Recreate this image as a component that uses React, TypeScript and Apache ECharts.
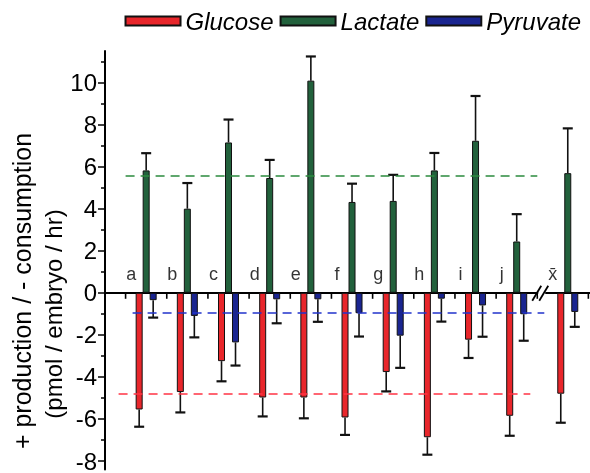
import React, { useEffect, useRef } from "react";
import * as echarts from "echarts";

const categories = ["a", "b", "c", "d", "e", "f", "g", "h", "i", "j", "x\u0304"];
const positions = [0, 1, 2, 3, 4, 5, 6, 7, 8, 9, 10.24];
const xTickValues = [-0.5, 0.5, 1.5, 2.5, 3.5, 4.5, 5.5, 6.5, 7.5, 8.5, 9.5, 10.74];
const yTickValues = [-8, -6, -4, -2, 0, 2, 4, 6, 8, 10];
const yMinorValues = [-7, -5, -3, -1, 1, 3, 5, 7, 9, 11];

const glucose = [-5.55, -4.72, -3.25, -4.98, -4.98, -5.93, -3.77, -6.87, -2.23, -5.85, -4.8];
const glucoseErr = [0.82, 0.97, 0.96, 0.9, 0.99, 0.83, 0.92, 0.83, 0.87, 0.95, 1.38];
const lactate = [5.82, 4.0, 7.15, 5.46, 10.09, 4.32, 4.37, 5.82, 7.23, 2.44, 5.69];
const lactateErr = [0.82, 1.22, 1.09, 0.86, 1.15, 0.87, 1.24, 0.83, 2.13, 1.3, 2.13];
const pyruvate = [-0.35, -1.1, -2.36, -0.31, -0.31, -0.97, -2.04, -0.28, -0.6, -1.02, -0.91];
const pyruvateErr = [0.83, 1.02, 1.1, 1.14, 1.07, 1.11, 1.53, 1.09, 1.49, 1.26, 0.71];

const glucoseMean = -4.8;
const lactateMean = 5.58;
const pyruvateMean = -0.94;
const meanLineRange = [-0.5, 9.5];

const FONT = "'Liberation Sans', Arial, Helvetica, sans-serif";
const RED = "#e8262b";
const GREEN = "#22613c";
const BLUE = "#1a2590";

function barSeries(name: string, vals: number[], color: string, mean: number, meanColor: string) {
  return {
    name,
    type: "bar",
    barWidth: 7,
    barGap: "0%",
    data: positions.map((x, i) => [x, vals[i]]),
    itemStyle: { color, borderColor: "#111", borderWidth: 1 },
    markLine: {
      silent: true,
      symbol: ["none", "none"],
      label: { show: false },
      lineStyle: { color: meanColor, type: [9, 6], width: 1.6 },
      z: 10,
      data: [[{ coord: [meanLineRange[0], mean] }, { coord: [meanLineRange[1], mean] }]],
    },
    z: 3,
  };
}

function errSeries(name: string, vals: number[], errs: number[], offset: number) {
  return {
    name,
    type: "custom",
    encode: { x: 0, y: 1 },
    data: positions.map((x, i) => [x, vals[i], errs[i]]),
    z: 2,
    renderItem: (params: any, api: any) => {
      const x = api.value(0);
      const v = api.value(1);
      const e = api.value(2);
      const sign = v < 0 ? -1 : 1;
      const p0 = api.coord([x, v]);
      const p1 = api.coord([x, v + sign * e]);
      const cx = p0[0] + offset;
      const style = { stroke: "#111", lineWidth: 1.6 };
      return {
        type: "group",
        children: [
          { type: "line", shape: { x1: cx, y1: p0[1], x2: cx, y2: p1[1] }, style },
          { type: "line", shape: { x1: cx - 5, y1: p1[1], x2: cx + 5, y2: p1[1] }, style: { stroke: "#111", lineWidth: 2.2 } },
        ],
      };
    },
  };
}

export default function App() {
  const ref = useRef<HTMLDivElement>(null);
  useEffect(() => {
    if (!ref.current) return;
    const chart = echarts.init(ref.current, null, { renderer: "svg" });
    chart.setOption({
      animation: false,
      textStyle: { fontFamily: FONT },
      grid: { left: 105, right: 0, top: 51, bottom: 0, containLabel: false },
      legend: {
        data: ["Glucose", "Lactate", "Pyruvate"],
        right: 4,
        top: 4,
        icon: "rect",
        itemWidth: 55,
        itemHeight: 9,
        itemGap: 6,
        textStyle: { fontSize: 24, fontStyle: "italic", color: "#000", fontFamily: FONT },
      },
      xAxis: {
        type: "value",
        min: -1,
        max: 10.78,
        axisLine: { show: true, onZero: true, onZeroAxisIndex: 0, lineStyle: { color: "#000", width: 2 } },
        axisTick: { show: false },
        axisLabel: { show: false },
        splitLine: { show: false },
      },
      yAxis: [
        {
          type: "value",
          min: -8.4,
          max: 11.5,
          axisLine: { show: true, onZero: false, lineStyle: { color: "#000", width: 2 } },
          axisTick: { show: true, length: 7, customValues: yTickValues, lineStyle: { color: "#000", width: 1.5 } },
          axisLabel: { customValues: yTickValues, fontSize: 24, color: "#000", margin: 8 },
          splitLine: { show: false },
        },
        {
          type: "value",
          min: -8.4,
          max: 11.5,
          position: "left",
          axisLine: { show: false, onZero: false },
          axisTick: { show: true, length: 4, customValues: yMinorValues, lineStyle: { color: "#000", width: 1.5 } },
          axisLabel: { show: false },
          splitLine: { show: false },
        },
      ],
      series: [
        barSeries("Glucose", glucose, RED, glucoseMean, "#ff3344"),
        barSeries("Lactate", lactate, GREEN, lactateMean, "#2b8a3e"),
        barSeries("Pyruvate", pyruvate, BLUE, pyruvateMean, "#2233cc"),
        errSeries("Glucose err", glucose, glucoseErr, -7),
        errSeries("Lactate err", lactate, lactateErr, 0),
        errSeries("Pyruvate err", pyruvate, pyruvateErr, 7),
        {
          name: "x ticks",
          type: "custom",
          encode: { x: 0, y: 1 },
          silent: true,
          z: 4,
          data: xTickValues.map((v) => [v, 0]),
          renderItem: (params: any, api: any) => {
            const p = api.coord([api.value(0), api.value(1)]);
            return {
              type: "line",
              shape: { x1: p[0], y1: p[1], x2: p[0], y2: p[1] + 6 },
              style: { stroke: "#000", lineWidth: 1.6 },
            };
          },
        },
        {
          name: "labels",
          type: "scatter",
          symbolSize: 0,
          silent: true,
          data: positions.map((x, i) => ({ value: [x, 0], name: categories[i] })),
          label: {
            show: true,
            position: "top",
            distance: 10,
            offset: [-15, 0],
            formatter: (p: any) => p.name,
            fontSize: 18,
            color: "#000",
            fontFamily: FONT,
          },
          z: 5,
        },
      ],
    });

    const brk = chart.convertToPixel({ xAxisIndex: 0, yAxisIndex: 0 }, [(positions[9] + positions[10]) / 2, 0]) as number[];
    const bx = brk[0];
    const by = brk[1];
    chart.setOption({
      graphic: [
        {
          type: "rect",
          shape: { x: bx - 4, y: by - 3, width: 7, height: 6 },
          style: { fill: "#fff" },
          z: 100,
        },
        {
          type: "line",
          shape: { x1: bx - 10, y1: by + 8, x2: bx - 1, y2: by - 7 },
          style: { stroke: "#000", lineWidth: 1.8 },
          z: 101,
        },
        {
          type: "line",
          shape: { x1: bx - 3, y1: by + 8, x2: bx + 6, y2: by - 7 },
          style: { stroke: "#000", lineWidth: 1.8 },
          z: 101,
        },
        {
          type: "text",
          x: 22,
          y: 291,
          rotation: Math.PI / 2,
          style: {
            text: "+ production / - consumption",
            fontSize: 25,
            fontFamily: FONT,
            fill: "#000",
            align: "center",
            verticalAlign: "middle",
          },
        },
        {
          type: "text",
          x: 53,
          y: 314,
          rotation: Math.PI / 2,
          style: {
            text: "(pmol / embryo / hr)",
            fontSize: 24,
            fontFamily: FONT,
            fill: "#000",
            align: "center",
            verticalAlign: "middle",
          },
        },
      ],
    });

    return () => chart.dispose();
  }, []);
  return <div ref={ref} style={{ position: "fixed", left: 0, top: 0, width: 590, height: 473 }} />;
}
